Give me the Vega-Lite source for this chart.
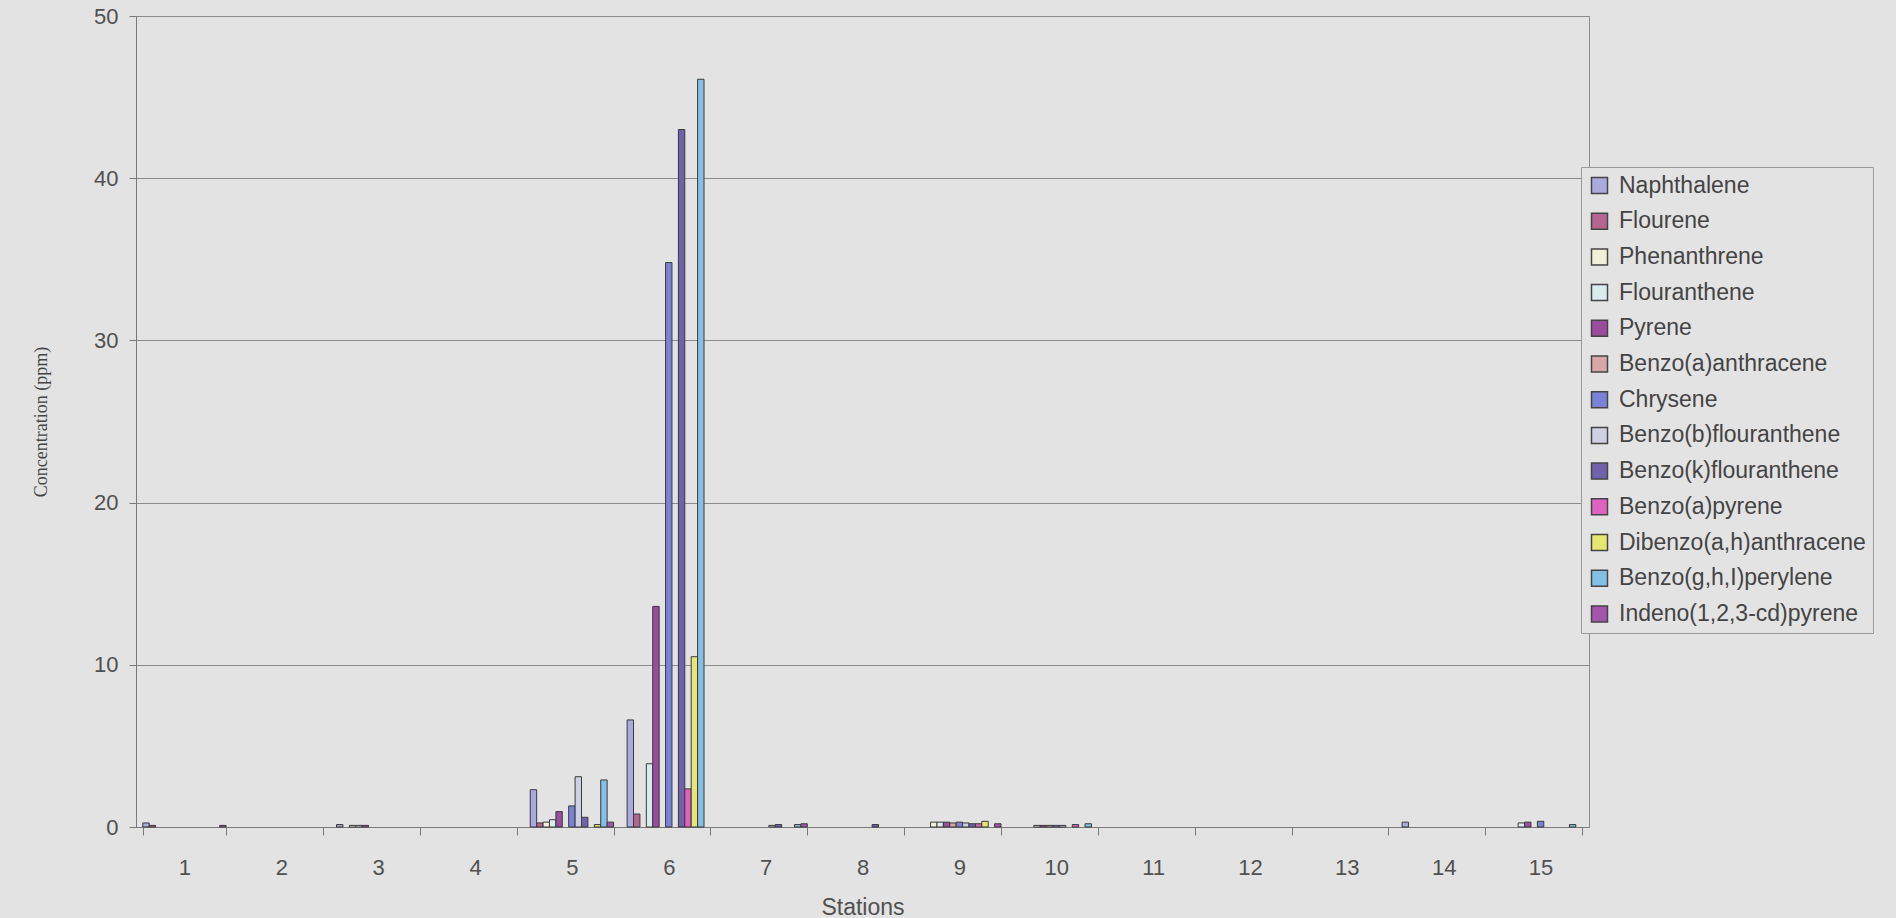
{
  "$schema": "https://vega.github.io/schema/vega-lite/v6.json",
  "autosize": {"type": "none"},
  "padding": {"left": 136, "top": 16, "right": 307, "bottom": 91},
  "width": 1453,
  "height": 811,
  "background": "#e3e3e3",
  "config": {
    "view": {"stroke": "#8c8c8c", "strokeWidth": 1, "fill": "#e3e3e3"},
    "font": "Liberation Sans"
  },
  "data": {
    "values": [
      {"s": 1, "c": "Naphthalene", "v": 0.25},
      {"s": 1, "c": "Flourene", "v": 0.1},
      {"s": 1, "c": "Indeno(1,2,3-cd)pyrene", "v": 0.1},
      {"s": 3, "c": "Naphthalene", "v": 0.15},
      {"s": 3, "c": "Phenanthrene", "v": 0.1},
      {"s": 3, "c": "Flouranthene", "v": 0.1},
      {"s": 3, "c": "Pyrene", "v": 0.1},
      {"s": 5, "c": "Naphthalene", "v": 2.3},
      {"s": 5, "c": "Flourene", "v": 0.25},
      {"s": 5, "c": "Phenanthrene", "v": 0.3},
      {"s": 5, "c": "Flouranthene", "v": 0.45},
      {"s": 5, "c": "Pyrene", "v": 0.95},
      {"s": 5, "c": "Benzo(a)anthracene", "v": 0},
      {"s": 5, "c": "Chrysene", "v": 1.3},
      {"s": 5, "c": "Benzo(b)flouranthene", "v": 3.1},
      {"s": 5, "c": "Benzo(k)flouranthene", "v": 0.6},
      {"s": 5, "c": "Benzo(a)pyrene", "v": 0},
      {"s": 5, "c": "Dibenzo(a,h)anthracene", "v": 0.15},
      {"s": 5, "c": "Benzo(g,h,I)perylene", "v": 2.9},
      {"s": 5, "c": "Indeno(1,2,3-cd)pyrene", "v": 0.3},
      {"s": 6, "c": "Naphthalene", "v": 6.6},
      {"s": 6, "c": "Flourene", "v": 0.8},
      {"s": 6, "c": "Phenanthrene", "v": 0},
      {"s": 6, "c": "Flouranthene", "v": 3.9},
      {"s": 6, "c": "Pyrene", "v": 13.6},
      {"s": 6, "c": "Benzo(a)anthracene", "v": 0},
      {"s": 6, "c": "Chrysene", "v": 34.8},
      {"s": 6, "c": "Benzo(b)flouranthene", "v": 0},
      {"s": 6, "c": "Benzo(k)flouranthene", "v": 43.0},
      {"s": 6, "c": "Benzo(a)pyrene", "v": 2.35},
      {"s": 6, "c": "Dibenzo(a,h)anthracene", "v": 10.5},
      {"s": 6, "c": "Benzo(g,h,I)perylene", "v": 46.1},
      {"s": 6, "c": "Indeno(1,2,3-cd)pyrene", "v": 0},
      {"s": 7, "c": "Benzo(b)flouranthene", "v": 0.1},
      {"s": 7, "c": "Benzo(k)flouranthene", "v": 0.15},
      {"s": 7, "c": "Benzo(g,h,I)perylene", "v": 0.15},
      {"s": 7, "c": "Indeno(1,2,3-cd)pyrene", "v": 0.2},
      {"s": 8, "c": "Benzo(k)flouranthene", "v": 0.15},
      {"s": 9, "c": "Phenanthrene", "v": 0.3},
      {"s": 9, "c": "Flouranthene", "v": 0.3},
      {"s": 9, "c": "Pyrene", "v": 0.3},
      {"s": 9, "c": "Benzo(a)anthracene", "v": 0.25},
      {"s": 9, "c": "Chrysene", "v": 0.3},
      {"s": 9, "c": "Benzo(b)flouranthene", "v": 0.25},
      {"s": 9, "c": "Benzo(k)flouranthene", "v": 0.2},
      {"s": 9, "c": "Benzo(a)pyrene", "v": 0.2},
      {"s": 9, "c": "Dibenzo(a,h)anthracene", "v": 0.35},
      {"s": 9, "c": "Indeno(1,2,3-cd)pyrene", "v": 0.2},
      {"s": 10, "c": "Flouranthene", "v": 0.1},
      {"s": 10, "c": "Pyrene", "v": 0.1},
      {"s": 10, "c": "Benzo(a)anthracene", "v": 0.1},
      {"s": 10, "c": "Chrysene", "v": 0.1},
      {"s": 10, "c": "Benzo(b)flouranthene", "v": 0.1},
      {"s": 10, "c": "Benzo(a)pyrene", "v": 0.15},
      {"s": 10, "c": "Benzo(g,h,I)perylene", "v": 0.2},
      {"s": 14, "c": "Naphthalene", "v": 0.3},
      {"s": 15, "c": "Flouranthene", "v": 0.25},
      {"s": 15, "c": "Pyrene", "v": 0.3},
      {"s": 15, "c": "Chrysene", "v": 0.35},
      {"s": 15, "c": "Benzo(g,h,I)perylene", "v": 0.15}
    ]
  },
  "transform": [{"filter": "datum.v > 0"}],
  "mark": {"type": "bar", "stroke": "#3a3a3a", "strokeWidth": 1},
  "encoding": {
    "x": {
      "field": "s",
      "type": "ordinal",
      "scale": {"domain": [1,2,3,4,5,6,7,8,9,10,11,12,13,14,15], "paddingInner": 0.14, "paddingOuter": 0.07},
      "axis": {
        "title": "Stations",
        "labelAngle": 0,
        "labelFont": "Liberation Sans",
        "labelFontSize": 22,
        "labelColor": "#505050",
        "labelPadding": 22,
        "tickBand": "extent",
        "tickSize": 8,
        "tickColor": "#7a7a7a",
        "domainColor": "#7a7a7a",
        "titleFont": "Liberation Sans",
        "titleFontSize": 23,
        "titleFontWeight": "normal",
        "titleColor": "#505050",
        "titleBaseline": "top",
        "titleY": 69
      }
    },
    "xOffset": {
      "field": "c",
      "type": "nominal",
      "scale": {"domain": ["Naphthalene","Flourene","Phenanthrene","Flouranthene","Pyrene","Benzo(a)anthracene","Chrysene","Benzo(b)flouranthene","Benzo(k)flouranthene","Benzo(a)pyrene","Dibenzo(a,h)anthracene","Benzo(g,h,I)perylene","Indeno(1,2,3-cd)pyrene"], "paddingInner": 0, "paddingOuter": 0}
    },
    "y": {
      "field": "v",
      "type": "quantitative",
      "scale": {"domain": [0, 50], "nice": false},
      "axis": {
        "title": "Concentration (ppm)",
        "values": [0, 10, 20, 30, 40, 50],
        "grid": true,
        "gridColor": "#8c8c8c",
        "gridWidth": 1,
        "labelFont": "Liberation Sans",
        "labelFontSize": 22,
        "labelColor": "#505050",
        "labelPadding": 11,
        "tickSize": 7,
        "tickColor": "#7a7a7a",
        "domainColor": "#7a7a7a",
        "titleFont": "Liberation Serif",
        "titleFontSize": 18,
        "titleFontWeight": "normal",
        "titleColor": "#444444",
        "titleBaseline": "middle",
        "titleX": -95
      }
    },
    "color": {
      "field": "c",
      "type": "nominal",
      "scale": {
        "domain": ["Naphthalene","Flourene","Phenanthrene","Flouranthene","Pyrene","Benzo(a)anthracene","Chrysene","Benzo(b)flouranthene","Benzo(k)flouranthene","Benzo(a)pyrene","Dibenzo(a,h)anthracene","Benzo(g,h,I)perylene","Indeno(1,2,3-cd)pyrene"],
        "range": ["#aaaadf","#b5658f","#f1f1da","#d9eded","#9a4c9e","#d8a6a6","#7a82d8","#cfcfe6","#6f62aa","#df62c2","#e6e672","#82c0e6","#a455ac"]
      },
      "legend": {
        "title": null,
        "orient": "none",
        "legendX": 1445,
        "legendY": 151,
        "padding": 7,
        "symbolType": "square",
        "symbolSize": 256,
        "symbolStrokeColor": "#444444",
        "symbolStrokeWidth": 1.5,
        "symbolOpacity": 1,
        "labelFont": "Liberation Sans",
        "labelFontSize": 23,
        "labelColor": "#444444",
        "labelOffset": 8,
        "labelLimit": 500,
        "labelExpr": "datum.label + '        '",
        "rowPadding": 11.7,
        "fillColor": "#e3e3e3",
        "strokeColor": "#9a9a9a"
      }
    }
  }
}
